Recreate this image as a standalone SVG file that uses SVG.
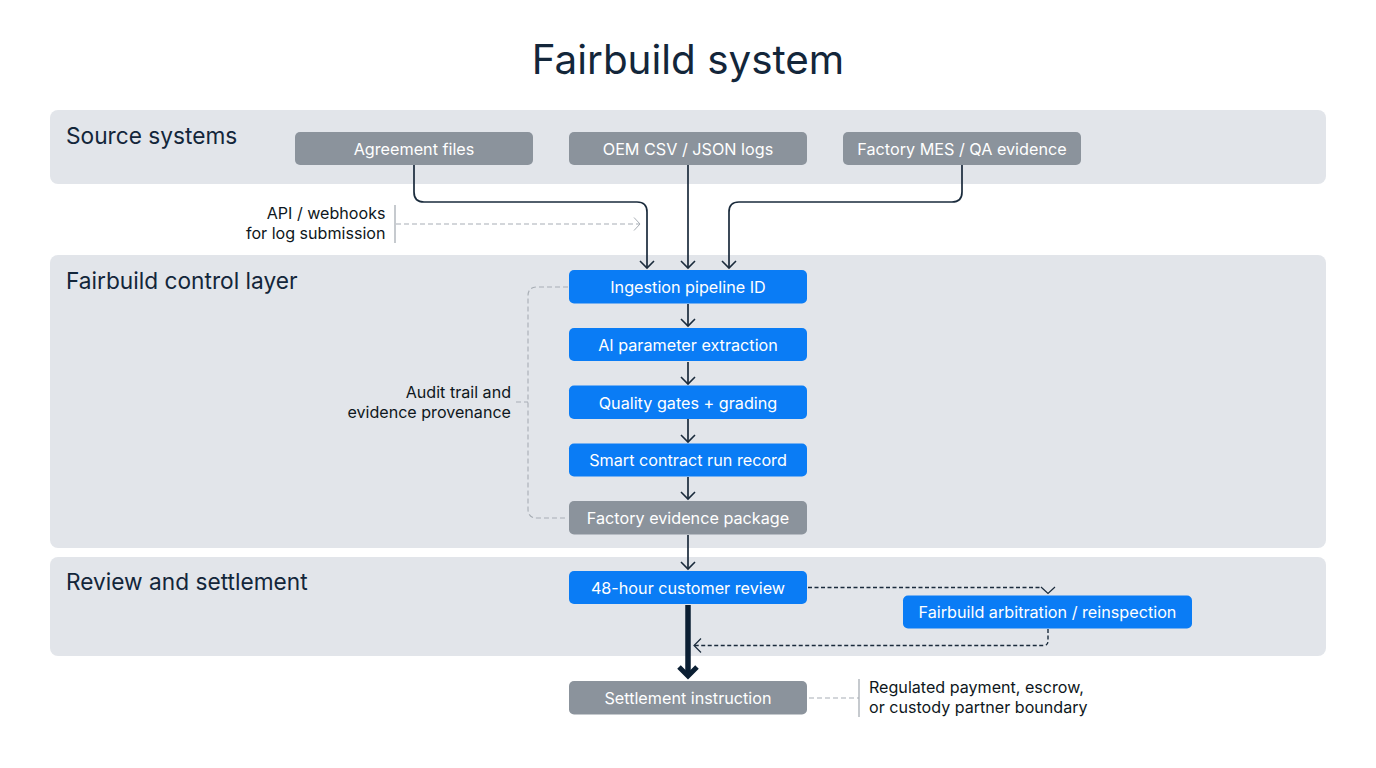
<svg xmlns="http://www.w3.org/2000/svg" width="1376" height="768" viewBox="0 0 1376 768">
<defs>
<marker id="a" markerUnits="userSpaceOnUse" markerWidth="16" markerHeight="18" refX="13" refY="9" orient="auto"><path d="M6 2L13 9L6 16" fill="none" stroke="#1a2b3c" stroke-width="1.6"/></marker>
<marker id="g" markerUnits="userSpaceOnUse" markerWidth="16" markerHeight="16" refX="13" refY="8" orient="auto"><path d="M7 1.500L13 8L7 14.500" fill="none" stroke="#a8aeb5" stroke-width="1"/></marker>
<marker id="d" markerUnits="userSpaceOnUse" markerWidth="16" markerHeight="18" refX="13" refY="9" orient="auto"><path d="M6 2L13 9L6 16" fill="none" stroke="#1a2b3c" stroke-width="1.2"/></marker>
</defs>
<style>
text{font-family:Inter,"Liberation Sans",sans-serif}
.band{fill:#e2e5ea}
.lane{font-size:22.700px;fill:#13263a}
.n{font-size:16.200px;fill:#fff;text-anchor:middle}
.blue{fill:#0a7cf5}.grey{fill:#8b939c}
.note{font-size:16.100px;fill:#0e1720}
.e{text-anchor:end}
.flow{fill:none;stroke:#1a2b3c;stroke-width:1.7}
.dash{fill:none;stroke:#1a2b3c;stroke-width:1.4;stroke-dasharray:4 2.500}
.solid{fill:none;stroke:#1a2b3c;stroke-width:1.2}
.soft{fill:none;stroke:#a8aeb5;stroke-width:1.100;stroke-dasharray:5 3}
.rule{stroke:#a8aeb5;stroke-width:1.300}
</style>
<rect width="1376" height="768" fill="#fff"/>
<text x="688" y="73.500" font-size="40.400" fill="#13263a" text-anchor="middle">Fairbuild system</text>
<g id="lanes">
<g id="lane-source"><rect class="band" x="50" y="110" width="1276" height="74" rx="8"/><text class="lane" x="66" y="144">Source systems</text></g>
<g id="lane-control"><rect class="band" x="50" y="255" width="1276" height="293" rx="8"/><text class="lane" x="66" y="289">Fairbuild control layer</text></g>
<g id="lane-review"><rect class="band" x="50" y="557" width="1276" height="99" rx="8"/><text class="lane" x="66" y="590">Review and settlement</text></g>
</g>
<g id="connectors">
<path class="flow" marker-end="url(#a)" d="M414 165V192Q414 202 424 202H637Q647 202 647 212V268"/>
<path class="flow" marker-end="url(#a)" d="M688 165V268"/>
<path class="flow" marker-end="url(#a)" d="M962 165V192Q962 202 952 202H739Q729 202 729 212V268"/>
<path class="flow" marker-end="url(#a)" d="M688 304V326"/>
<path class="flow" marker-end="url(#a)" d="M688 362V384"/>
<path class="flow" marker-end="url(#a)" d="M688 419V442"/>
<path class="flow" marker-end="url(#a)" d="M688 477V499"/>
<path class="flow" marker-end="url(#a)" d="M688 535V569"/>
<path fill="none" stroke="#0b1f33" stroke-width="5.500" d="M688 605V676"/>
<path fill="none" stroke="#0b1f33" stroke-width="5" d="M679 667L688 676L697 667"/>
<path class="soft" marker-end="url(#g)" d="M396 224H640"/>
<path class="soft" d="M568 287H537Q528 287 528 296V509Q528 518 537 518H568M516 402H528"/>
<path class="soft" d="M809 698H859"/>
<path class="dash" d="M808 587.500H1041"/>
<path class="solid" d="M1041 587L1048 593.500L1055 587"/>
<path class="dash" marker-end="url(#d)" d="M1048 629V641Q1048 645.500 1044 645.500H694"/>
<path class="rule" d="M395 205V243M859 679V717"/>
</g>
<g id="agreement"><rect class="grey" x="295" y="132" width="238" height="33" rx="5"/><text class="n" x="414" y="154.500">Agreement files</text></g>
<g id="oem"><rect class="grey" x="569" y="132" width="238" height="33" rx="5"/><text class="n" x="688" y="154.500">OEM CSV / JSON logs</text></g>
<g id="factory"><rect class="grey" x="843" y="132" width="238" height="33" rx="5"/><text class="n" x="962" y="154.500">Factory MES / QA evidence</text></g>
<g id="ingestion"><rect class="blue" x="569" y="270" width="238" height="33.500" rx="5"/><text class="n" x="688" y="293">Ingestion pipeline ID</text></g>
<g id="ai"><rect class="blue" x="569" y="328" width="238" height="33" rx="5"/><text class="n" x="688" y="350.500">AI parameter extraction</text></g>
<g id="quality"><rect class="blue" x="569" y="385.500" width="238" height="33.500" rx="5"/><text class="n" x="688" y="408.500">Quality gates + grading</text></g>
<g id="smart"><rect class="blue" x="569" y="443.500" width="238" height="33" rx="5"/><text class="n" x="688" y="466">Smart contract run record</text></g>
<g id="package"><rect class="grey" x="569" y="501" width="238" height="33.500" rx="5"/><text class="n" x="688" y="523.500">Factory evidence package</text></g>
<g id="review"><rect class="blue" x="569" y="571" width="238" height="33" rx="5"/><text class="n" x="688" y="593.500">48-hour customer review</text></g>
<g id="arbitration"><rect class="blue" x="903" y="595.500" width="289" height="33" rx="5"/><text class="n" x="1047.500" y="618">Fairbuild arbitration / reinspection</text></g>
<g id="settlement"><rect class="grey" x="569" y="681" width="238" height="33.500" rx="5"/><text class="n" x="688" y="704">Settlement instruction</text></g>
<g id="notes">
<text class="note e" x="385.500" y="218.500">API / webhooks</text><text class="note e" x="385.500" y="238.500">for log submission</text>
<text class="note e" x="511" y="398">Audit trail and</text><text class="note e" x="511" y="418">evidence provenance</text>
<text class="note" x="869" y="693">Regulated payment, escrow,</text><text class="note" x="869" y="713">or custody partner boundary</text>
</g>
</svg>
